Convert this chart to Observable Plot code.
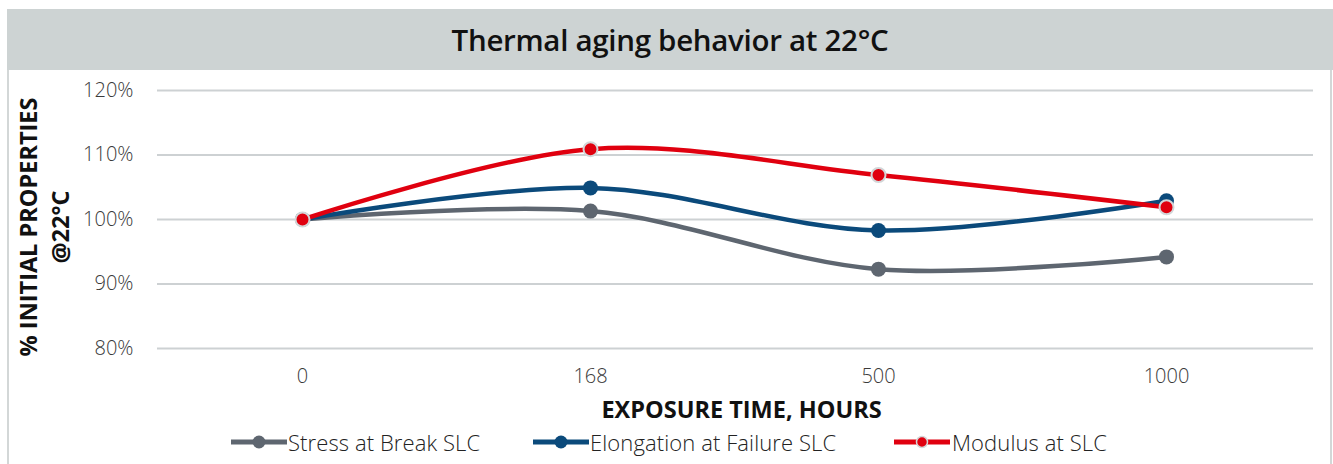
<!DOCTYPE html>
<html>
<head>
<meta charset="utf-8">
<script src="https://cdn.jsdelivr.net/npm/d3@7"></script>
<script src="https://cdn.jsdelivr.net/npm/@observablehq/plot@0.6"></script>
<style>
  body { margin: 0; background: #fff; font-family: "Open Sans", sans-serif; }
  #wrap { position: relative; width: 1333px; height: 464px; overflow: hidden; }
  #band { position: absolute; left: 7px; top: 9px; width: 1326px; height: 61px; background: #cdd3d3;
          display: flex; align-items: center; justify-content: center;
          font-size: 29.5px; font-weight: 600; color: #111; letter-spacing: -0.3px; }
  #lb { position: absolute; left: 7px; top: 70px; width: 2px; height: 394px; background: #d3d7d7; }
  #rb { position: absolute; left: 1330px; top: 70px; width: 2px; height: 394px; background: #d3d7d7; }
  #chart { position: absolute; left: 0; top: 70px; }
  #ytitle { position: absolute; left: 44px; top: 227px; width: 320px; transform: translate(-50%, -50%) rotate(-90deg);
            text-align: center; font-size: 23.5px; font-weight: 700; line-height: 32px; color: #111; white-space: nowrap; }
  #legend { position: absolute; left: 0; top: 428px; width: 1333px; height: 28px; color: #222; }
  .sw { position: absolute; top: 4px; }
  .lt { position: absolute; top: 0; font-size: 22px; font-weight: 300; letter-spacing: 0.1px; line-height: 28px; white-space: nowrap; }
</style>
</head>
<body>
<div id="wrap">
  <div id="band">Thermal aging behavior at 22°C</div>
  <div id="lb"></div><div id="rb"></div>
  <div id="chart"></div>
  <div id="ytitle">% INITIAL PROPERTIES<br>@22°C</div>
  <div id="legend"></div>
</div>
<script>
const hours = ["0", "168", "500", "1000"];
const seriesNames = ["Stress at Break SLC", "Elongation at Failure SLC", "Modulus at SLC"];
const stressAtBreak = [1.00, 1.013, 0.923, 0.942];
const elongationAtFailure = [1.00, 1.049, 0.983, 1.029];
const modulus = [1.00, 1.109, 1.069, 1.019];
const colors = ["#5e6670", "#0b4a7b", "#e0000f"];
const yTicks = [0.8, 0.9, 1.0, 1.1, 1.2];

const seriesValues = [stressAtBreak, elongationAtFailure, modulus];
const data = seriesNames.flatMap((s, i) => hours.map((h, j) => ({series: s, hour: h, value: seriesValues[i][j]})));
const fmt = d => Math.round(d * 100) + "%";

const plot = Plot.plot({
  width: 1333,
  height: 360,
  marginLeft: 157,
  marginRight: 22,
  marginTop: 20,
  marginBottom: 82,
  style: {fontFamily: "Open Sans, sans-serif", fontSize: "20px", color: "#3a3a3a", background: "transparent"},
  x: {type: "band", domain: hours, padding: 0, label: null},
  y: {domain: [0.8, 1.2], ticks: yTicks, tickFormat: fmt, label: null},
  color: {domain: seriesNames, range: colors},
  marks: [
    Plot.gridY(yTicks, {stroke: "#cdd1d3", strokeOpacity: 1, strokeWidth: 2, insetRight: -2}),
    Plot.axisY({ticks: yTicks, tickFormat: fmt, tickSize: 0, tickPadding: 24, fontWeight: 300, label: null}),
    Plot.axisX({tickSize: 0, tickPadding: 20, fontWeight: 300, label: null}),
    Plot.text(["EXPOSURE TIME, HOURS"], {frameAnchor: "bottom", dx: 7, dy: 62, lineAnchor: "middle", text: d => d,
      fontSize: 23.5, fontWeight: 700, fill: "#111", letterSpacing: -0.2}),
    Plot.line(data, {x: "hour", y: "value", z: "series", stroke: "series", strokeWidth: 4.5, curve: "catmull-rom"}),
    Plot.dot(data.filter(d => d.series !== "Modulus at SLC"), {x: "hour", y: "value", fill: "series", r: 7.5}),
    Plot.dot(data.filter(d => d.series === "Modulus at SLC"), {x: "hour", y: "value", fill: "series", r: 7, stroke: "#d3d6d8", strokeWidth: 2})
  ]
});
document.getElementById("chart").appendChild(plot);

// legend
const swatchX = [230, 532, 893];
const textX = [288, 590, 952];
const leg = document.getElementById("legend");
seriesNames.forEach((s, i) => {
  const isMod = i === 2;
  const sw = document.createElement("div");
  sw.className = "sw";
  sw.style.left = swatchX[i] + "px";
  sw.innerHTML = `<svg width="58" height="20"><line x1="1" x2="57" y1="10" y2="10" stroke="${colors[i]}" stroke-width="5"/>` +
    `<circle cx="29" cy="10" r="${isMod ? 5.5 : 6.5}" fill="${colors[i]}" stroke="${isMod ? '#d3d6d8' : colors[i]}" stroke-width="${isMod ? 1.5 : 0}"/></svg>`;
  leg.appendChild(sw);
  const t = document.createElement("div");
  t.className = "lt";
  t.style.left = textX[i] + "px";
  t.textContent = s;
  leg.appendChild(t);
});
</script>
</body>
</html>
